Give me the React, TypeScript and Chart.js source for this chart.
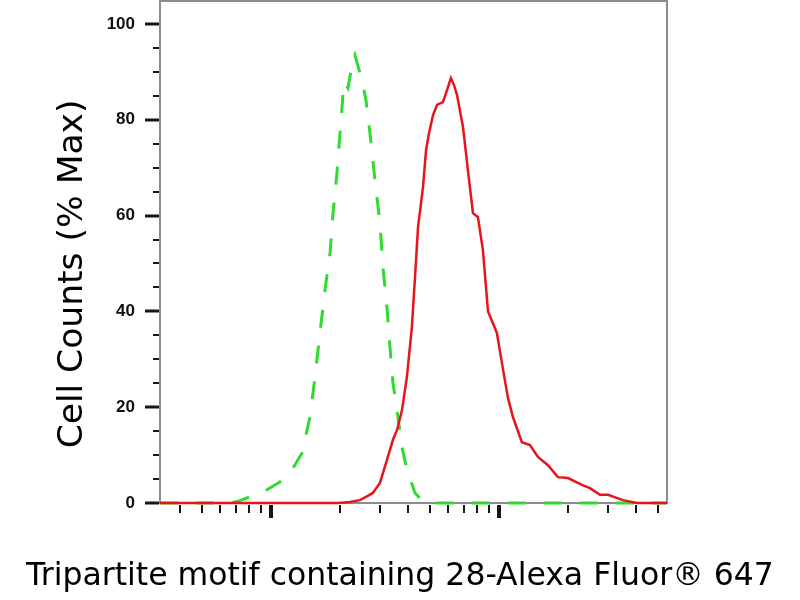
import React, { useEffect, useRef } from "react";
import { Chart, registerables } from "chart.js";

Chart.register(...registerables);

// ---- axis ranges / ticks ----
const xMin = 326;
const xMax = 54600;
const yMin = 0;
const yMax = 104.8;

const xTickValues = [
  400, 500, 600, 700, 800, 900, 1000,
  2000, 3000, 4000, 5000, 6000, 7000, 8000, 9000, 10000,
  20000, 30000, 40000, 50000,
];
const xMajorTicks = [1000, 10000];

const yTickValues = [0, 5, 10, 15, 20, 25, 30, 35, 40, 45, 50, 55, 60, 65, 70, 75, 80, 85, 90, 95, 100];
const yLabelledTicks = [0, 20, 40, 60, 80, 100];

// ---- titles ----
const yTitle = "Cell Counts (% Max)\u00a0\u00a0\u00a0\u00a0";
const xTitle = "Tripartite motif containing 28-Alexa Fluor® 647";

// ---- isotype control (green dashed) ----
const isotypeIntensity = [
  326, 661, 710, 809, 942, 1095, 1236, 1367, 1483, 1560, 1640, 1726, 1816, 1872, 1947,
  2009, 2090, 2177, 2265, 2335, 2383, 2505, 2610, 2718, 2858, 3006, 3098, 3227, 3326,
  3428, 3571, 3756, 3947, 4285, 4645, 4980, 54600,
];
const isotypeCounts = [
  0, 0, 0.3, 1.3, 2.5, 4.4, 6.9, 10.4, 18, 26.3, 35.5, 44.5, 52.2, 60.5, 68.9,
  77.2, 87.9, 86.6, 91.4, 93.5, 92, 88.3, 84.1, 77.2, 67.4, 58.5, 49.3, 40.9, 32.6,
  25.1, 19.4, 11.7, 6.9, 2.1, 0.3, 0, 0,
];

// ---- stained sample (red solid) ----
const stainedIntensity = [
  326, 1968, 2220, 2455, 2659, 2798, 3006, 3227, 3428, 3571, 3756, 3947, 4150, 4285,
  4416, 4645, 4790, 4935, 5140, 5350, 5680, 5918, 6155, 6350, 6545, 6955, 7310, 7690,
  8085, 8505, 8955, 9225, 9795, 10410, 10950, 11510, 12610, 13680, 14830, 16400, 18150,
  20090, 23130, 25070, 27740, 30070, 34990, 40290, 54600,
];
const stainedCounts = [
  0, 0, 0.2, 0.6, 1.5, 2.1, 4.2, 9, 13.2, 15.2, 19.4, 26.3, 36.7, 47.2,
  57.6, 66, 73.7, 77.2, 81, 83.1, 83.7, 86.2, 88.7, 87.3, 85.2, 78.5, 69.5, 60.5,
  59.7, 52.8, 40, 38.5, 35.5, 28, 22, 18, 12.7, 12.1, 9.6, 7.9, 5.4,
  5.2, 3.8, 3.1, 1.7, 1.7, 0.6, 0, 0,
];

const axisMarks = {
  id: "axisMarks",
  beforeDatasetsDraw(chart: any) {
    const { ctx, chartArea: a, scales } = chart;
    const xs = scales.x;
    const ys = scales.y;
    ctx.save();
    // frame
    ctx.strokeStyle = "#8c8c8c";
    ctx.lineWidth = 2;
    ctx.strokeRect(a.left, a.top, a.right - a.left, a.bottom - a.top);
    // y tick marks
    ctx.strokeStyle = "#151515";
    ys.ticks.forEach((t: any) => {
      const py = Math.round(ys.getPixelForValue(t.value));
      const major = yLabelledTicks.includes(t.value);
      ctx.lineWidth = major ? 3 : 2;
      ctx.beginPath();
      ctx.moveTo(a.left - (major ? 15 : 7), py);
      ctx.lineTo(a.left - 1, py);
      ctx.stroke();
    });
    // x tick marks
    xs.ticks.forEach((t: any) => {
      const px = Math.round(xs.getPixelForValue(t.value));
      const major = xMajorTicks.includes(t.value);
      ctx.lineWidth = major ? 4 : 2;
      ctx.beginPath();
      ctx.moveTo(px, a.bottom + 2);
      ctx.lineTo(px, a.bottom + (major ? 15 : 10));
      ctx.stroke();
    });
    ctx.restore();
  },
};

export default function App() {
  const ref = useRef<HTMLCanvasElement>(null);

  useEffect(() => {
    const canvas = ref.current;
    if (!canvas) return;
    const chart = new Chart(canvas, {
      type: "line",
      data: {
        datasets: [
          {
            label: "TRIM28",
            data: stainedIntensity.map((x, i) => ({ x, y: stainedCounts[i] })),
            borderColor: "rgb(230, 20, 28)",
            borderWidth: 2.5,
            pointRadius: 0,
            tension: 0,
            fill: false,
            clip: false,
          } as any,
          {
            label: "Isotype",
            data: isotypeIntensity.map((x, i) => ({ x, y: isotypeCounts[i] })),
            borderColor: "rgb(48, 218, 48)",
            borderWidth: 3,
            borderDash: [18, 18],
            pointRadius: 0,
            tension: 0,
            fill: false,
            clip: false,
          } as any,
        ],
      },
      options: {
        responsive: false,
        animation: false,
        events: [],
        layout: { padding: { top: 1, right: 0, bottom: 0, left: 0 } },
        plugins: {
          legend: { display: false },
          tooltip: { enabled: false },
          title: {
            display: true,
            position: "bottom",
            text: xTitle,
            color: "#000",
            font: { family: "DejaVu Sans", size: 31.5, weight: "normal" },
            padding: { top: 0, bottom: 4 },
          },
        },
        scales: {
          x: {
            type: "logarithmic",
            min: xMin,
            max: xMax,
            grid: { display: false, drawTicks: false },
            border: { display: false },
            ticks: { display: false, autoSkip: false },
            afterBuildTicks: (s: any) => {
              s.ticks = xTickValues.map((v) => ({ value: v, major: xMajorTicks.includes(v) }));
            },
            afterFit: (s: any) => {
              s.height = 55.2;
              s.paddingLeft = 0;
              s.paddingRight = 0;
            },
          },
          y: {
            type: "linear",
            min: yMin,
            max: yMax,
            grid: { display: false, drawTicks: false },
            border: { display: false },
            afterBuildTicks: (s: any) => {
              s.ticks = yTickValues.map((v) => ({ value: v }));
            },
            afterFit: (s: any) => {
              s.width = 160;
              s.paddingTop = 0;
              s.paddingBottom = 0;
            },
            ticks: {
              autoSkip: false,
              padding: 25,
              color: "#111",
              font: { family: "Liberation Sans", size: 17, weight: "bold" },
              callback: (v: any) => (yLabelledTicks.includes(Number(v)) ? String(v) : ""),
            },
            title: {
              display: true,
              text: yTitle,
              color: "#000",
              font: { family: "DejaVu Sans", size: 34.5, weight: "normal" },
              padding: { top: 52, bottom: 0 },
            },
          },
          yRight: {
            type: "linear",
            position: "right",
            display: true,
            grid: { display: false, drawTicks: false },
            border: { display: false },
            ticks: { display: false },
            afterFit: (s: any) => {
              s.width = 133;
              s.paddingTop = 0;
              s.paddingBottom = 0;
            },
          },
        },
      },
      plugins: [axisMarks],
    });
    return () => chart.destroy();
  }, []);

  return (
    <div style={{ position: "fixed", left: 0, top: 0, width: 800, height: 600, background: "#fff" }}>
      <canvas ref={ref} width={800} height={600} style={{ display: "block" }} />
    </div>
  );
}
